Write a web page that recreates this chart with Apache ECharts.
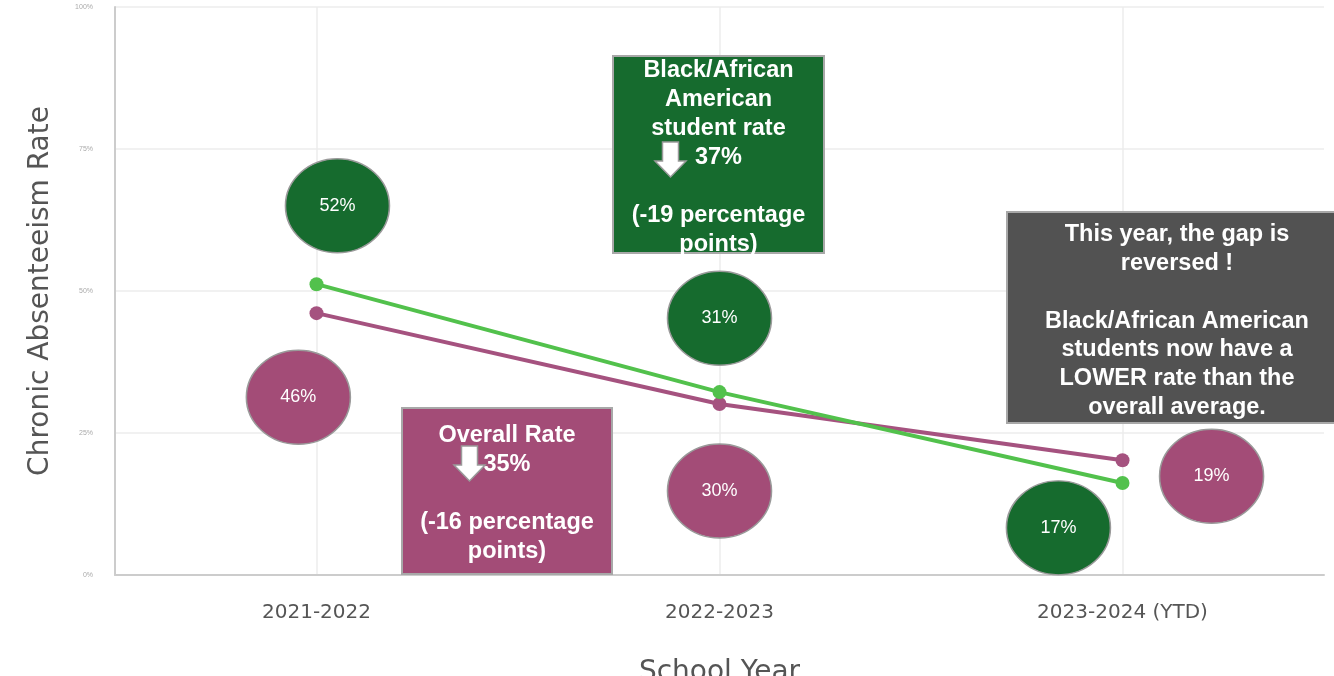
<!DOCTYPE html>
<html><head><meta charset="utf-8">
<script src="https://cdn.jsdelivr.net/npm/echarts@6/dist/echarts.min.js"></script>
<style>html,body{margin:0;padding:0;background:#fff;overflow:hidden}#c{width:1334px;height:676px}</style>
</head><body><div id="c"></div>
<script>
const categories = ['2021-2022', '2022-2023', '2023-2024 (YTD)'];
const blackRate = [51.2, 32.2, 16.2];
const overallRate = [46.1, 30.1, 20.2];
const yTicks = [0, 25, 50, 75, 100];
// bubble annotations: [x position on 0..3 band scale, y value, label]
const greenBubbles = [[0.552, 65.0, '52%'], [1.5, 45.2, '31%'], [2.341, 8.3, '17%']];
const purpleBubbles = [[0.455, 31.3, '46%'], [1.5, 14.8, '30%'], [2.721, 17.4, '19%']];
const greenBoxText = ['Black/African', 'American', 'student rate', '37%', '', '(-19 percentage', 'points)'];
const purpleBoxText = ['Overall Rate', '35%', '', '(-16 percentage', 'points)'];
const greyBoxText = ['This year, the gap is', 'reversed !', '', 'Black/African American', 'students now have a', 'LOWER rate than the', 'overall average.'];

const GREEN_DARK = '#166b2e', PURPLE = '#a34c77', GREY = '#525252';
const LINE_GREEN = '#52c14c', LINE_PURPLE = '#a5527f';

const chart = echarts.init(document.getElementById('c'));

function bubbleSeries(data, color) {
  return {
    type: 'scatter', xAxisIndex: 1, z: 5,
    symbol: 'circle', symbolSize: [104, 94],
    itemStyle: { color: color, borderColor: '#9a9a9a', borderWidth: 1.5, opacity: 1 },
    label: { show: true, position: 'inside', formatter: p => p.data[2], color: '#fff', fontSize: 18, fontFamily: 'Liberation Sans' },
    emphasis: { disabled: true },
    data: data
  };
}

function arrow(x, y) {
  return {
    type: 'polygon', z: 20,
    shape: { points: [[x + 7.5, y], [x + 23.5, y], [x + 23.5, y + 19], [x + 31, y + 19], [x + 15.5, y + 35], [x, y + 19], [x + 7.5, y + 19]] },
    style: { fill: '#fff', stroke: '#9a9a9a', lineWidth: 1.5 }
  };
}

function box(x, y, w, h, fill, lines, textTop, lh) {
  return [
    { type: 'rect', z: 10, shape: { x: x, y: y, width: w, height: h }, style: { fill: fill, stroke: '#a8a8a8', lineWidth: 2 } },
    { type: 'text', z: 11, x: x + w / 2, y: textTop,
      style: { text: lines.join('\n'), fill: '#fff', font: 'bold 23.5px "Liberation Sans", Arial, sans-serif', lineHeight: lh, align: 'center', verticalAlign: 'top' } }
  ];
}

const option = {
  animation: false,
  grid: { left: 115, right: 10, top: 7, bottom: 101, containLabel: false, outerBoundsMode: 'none' },
  xAxis: [{
    type: 'category', data: categories, boundaryGap: true,
    axisLine: { show: true, lineStyle: { color: '#cccccc', width: 2 } },
    axisTick: { show: false, alignWithLabel: true },
    splitLine: { show: true, alignWithLabel: true, lineStyle: { color: '#ececec', width: 1.5 } },
    axisLabel: { color: '#555', fontSize: 20, fontFamily: 'DejaVu Sans', margin: 28 },
    name: 'School Year', nameLocation: 'middle', nameGap: 84,
    nameTextStyle: { color: '#555', fontSize: 28, fontFamily: 'DejaVu Sans' }
  }, {
    type: 'value', min: 0, max: 3, show: false
  }],
  yAxis: {
    type: 'value', min: yTicks[0], max: yTicks[yTicks.length - 1], interval: 25,
    axisLine: { show: true, lineStyle: { color: '#cccccc', width: 2 } },
    axisTick: { show: false },
    splitLine: { show: true, lineStyle: { color: '#ececec', width: 1.5 } },
    axisLabel: { formatter: '{value}%', fontSize: 7, color: '#aaa', margin: 22 },
    name: 'Chronic Absenteeism Rate', nameLocation: 'middle', nameRotate: 90, nameGap: 60,
    nameTextStyle: { color: '#555', fontSize: 28, fontFamily: 'DejaVu Sans' }
  },
  series: [
    { name: 'Overall', type: 'line', data: overallRate, z: 3,
      lineStyle: { color: LINE_PURPLE, width: 4 }, itemStyle: { color: LINE_PURPLE },
      symbol: 'circle', symbolSize: 14, emphasis: { disabled: true } },
    { name: 'Black/African American', type: 'line', data: blackRate, z: 4,
      lineStyle: { color: LINE_GREEN, width: 4 }, itemStyle: { color: LINE_GREEN },
      symbol: 'circle', symbolSize: 14, emphasis: { disabled: true } },
    bubbleSeries(greenBubbles, GREEN_DARK),
    bubbleSeries(purpleBubbles, PURPLE)
  ],
  graphic: [].concat(
    box(613, 56, 211, 197, GREEN_DARK, greenBoxText, 56.5, 29),
    [arrow(655, 142)],
    box(402, 408, 210, 166, PURPLE, purpleBoxText, 421.5, 29),
    [arrow(454, 446)],
    box(1007, 212, 340, 211, GREY, greyBoxText, 220.6, 28.7)
  )
};
chart.setOption(option);
</script>
</body></html>
